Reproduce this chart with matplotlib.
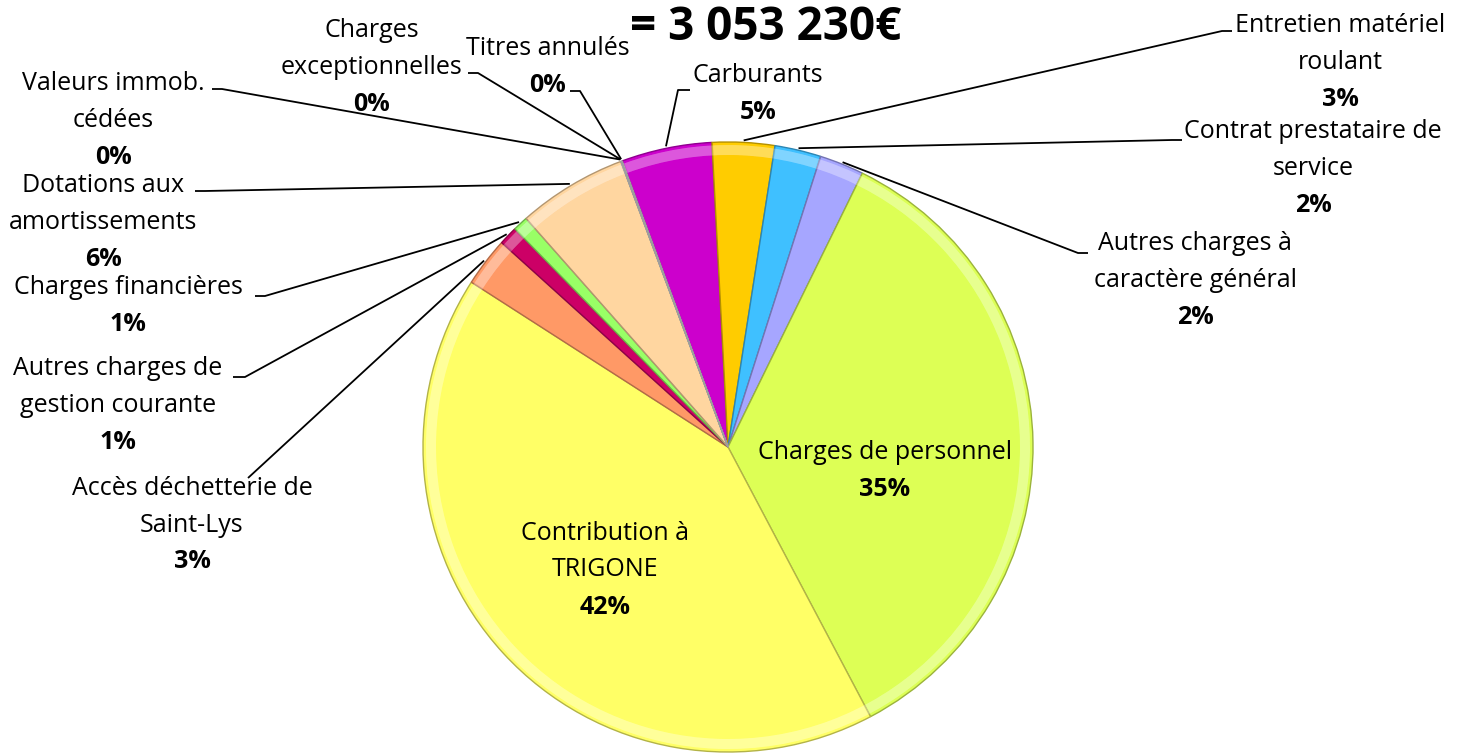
import matplotlib
matplotlib.use("Agg")
import matplotlib.pyplot as plt
import numpy as np

# ---------------- data ----------------
categories = [
    "Carburants",
    "Entretien matériel\nroulant",
    "Contrat prestataire de\nservice",
    "Autres charges à\ncaractère général",
    "Charges de personnel",
    "Contribution à\nTRIGONE",
    "Accès déchetterie de\nSaint-Lys",
    "Autres charges de\ngestion courante",
    "Charges financières",
    "Dotations aux\namortissements",
    "Valeurs immob.\ncédées",
    "Charges\nexceptionnelles",
    "Titres annulés",
]
values = [146600, 100800, 74800, 71700, 1068600, 1277030, 79400,
          30500, 24400, 177100, 300, 800, 1200]
colors = ["#CC00CC", "#FFCC00", "#3FC0FF", "#A6A6FF", "#DDFF55", "#FFFF66",
          "#FF9966", "#CC0066", "#99FF66", "#FFD6A0", "#E0E0E0", "#E0E0E0",
          "#E0E0E0"]
title_text = "= 3 053 230€"

# ---------------- layout (pixel coords, origin top-left) ----------------
W, H = 1468, 753
center_px = (728, 447)
radius = 305
# label centre x, first line y, elbow point (x,y) or None, horizontal tail end x
label_pos = {
    0: (758, 75, (678, 90), 690),
    1: (1340, 25, (1222, 31), 1232),
    2: (1313, 131, (1172, 140), 1182),
    3: (1195, 243, (1078, 253), 1088),
    4: (885, 452, None, None),
    5: (605, 533, None, None),
    6: (192, 488, (248, 478), None),
    7: (118, 368, (245, 377), 233),
    8: (128, 287, (265, 296), 255),
    9: (103, 185, (205, 191), 195),
    10: (113, 83, (222, 89), 212),
    11: (372, 30, (478, 73), 468),
    12: (548, 48, (580, 91), 570),
}
line_h = 37

plt.rcParams['font.family'] = ['Open Sans', 'DejaVu Sans']
fig = plt.figure(figsize=(W / 100, H / 100), dpi=100)
ax = fig.add_axes([0, 0, 1, 1])
ax.set_xlim(0, W)
ax.set_ylim(0, H)
ax.set_aspect('equal')
ax.axis('off')

cx, cy = center_px[0], H - center_px[1]

def darker(c, f=0.8):
    r, g, b = matplotlib.colors.to_rgb(c)
    return (r * f, g * f, b * f)

wedges, _ = ax.pie(values, colors=colors, startangle=110.3, counterclock=False,
                   radius=radius, center=(cx, cy), frame=True,
                   wedgeprops=dict(linewidth=1.0))
for w, c in zip(wedges, colors):
    w.set_edgecolor(darker(c, 0.7))
# subtle bevel highlight rim
for w in wedges:
    rim = matplotlib.patches.Wedge((cx, cy), radius - 3, w.theta1 + 0.3,
                                   w.theta2 - 0.3, width=10, facecolor="white",
                                   alpha=0.10, edgecolor="none")
    ax.add_patch(rim)

ax.set_xlim(0, W)
ax.set_ylim(0, H)
ax.axis('off')

total = sum(values)
fs = 18
for i, (w, name) in enumerate(zip(wedges, categories)):
    pct = f"{round(100 * values[i] / total):.0f}%"
    lx, ly, elbow, tail = label_pos[i]
    lines = name.split("\n")
    for k, ln in enumerate(lines):
        ax.text(lx, H - (ly + k * line_h), ln, ha='center', va='center',
                fontsize=fs, color='black')
    ax.text(lx, H - (ly + len(lines) * line_h), pct, ha='center', va='center',
            fontsize=fs, fontweight='bold', color='black')
    if elbow is not None:
        mid = np.deg2rad((w.theta1 + w.theta2) / 2)
        px = cx + (radius + 2) * np.cos(mid)
        py = cy + (radius + 2) * np.sin(mid)
        ex, ey = elbow[0], H - elbow[1]
        xs = [px, ex]
        ys = [py, ey]
        if tail is not None:
            xs.append(tail)
            ys.append(ey)
        ax.plot(xs, ys, color='black', linewidth=1.3, solid_capstyle='butt')

ax.text(766, H - 40, title_text, ha='center', va='baseline', fontsize=33,
        fontweight='bold', color='black')

fig.savefig("out.png", dpi=100)
